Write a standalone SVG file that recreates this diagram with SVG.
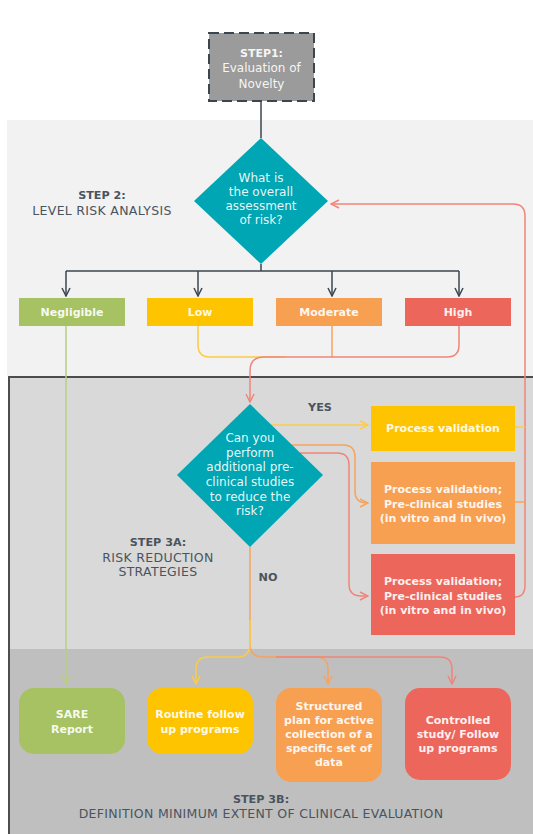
<svg xmlns="http://www.w3.org/2000/svg" width="533" height="834" viewBox="0 0 533 834">
<defs>
<style>
text{font-family:"DejaVu Sans","Liberation Sans",Arial,sans-serif;text-anchor:middle}
.lbl{font-size:12.5px;fill:#4a545e;letter-spacing:0.3px}
.lblb{font-size:11.2px;fill:#4a545e;font-weight:bold}
.wt{font-size:12px;fill:#ffffff;fill-opacity:0.92}
.wtb{font-size:11px;fill:#ffffff;fill-opacity:0.92;font-weight:bold}
.dk{stroke:#3c4650;stroke-width:1.5;fill:none}
.gr{stroke:#b8cf80;stroke-width:1.5;fill:none}
.ye{stroke:#fccb47;stroke-width:1.5;fill:none}
.or{stroke:#f7a35c;stroke-width:1.5;fill:none}
.rd{stroke:#f0857a;stroke-width:1.5;fill:none}
</style>
<marker id="aDk" viewBox="0 0 10 10" refX="9" refY="5" markerWidth="10" markerHeight="10" markerUnits="userSpaceOnUse" orient="auto"><path d="M1,1 L9,5 L1,9" fill="none" stroke="#3c4650" stroke-width="1.5"/></marker>
<marker id="aGr" viewBox="0 0 10 10" refX="9" refY="5" markerWidth="10" markerHeight="10" markerUnits="userSpaceOnUse" orient="auto"><path d="M1,1 L9,5 L1,9" fill="none" stroke="#b8cf80" stroke-width="1.5"/></marker>
<marker id="aYe" viewBox="0 0 10 10" refX="9" refY="5" markerWidth="10" markerHeight="10" markerUnits="userSpaceOnUse" orient="auto"><path d="M1,1 L9,5 L1,9" fill="none" stroke="#fccb47" stroke-width="1.5"/></marker>
<marker id="aOr" viewBox="0 0 10 10" refX="9" refY="5" markerWidth="10" markerHeight="10" markerUnits="userSpaceOnUse" orient="auto"><path d="M1,1 L9,5 L1,9" fill="none" stroke="#f7a35c" stroke-width="1.5"/></marker>
<marker id="aRd" viewBox="0 0 10 10" refX="9" refY="5" markerWidth="10" markerHeight="10" markerUnits="userSpaceOnUse" orient="auto"><path d="M1,1 L9,5 L1,9" fill="none" stroke="#f0857a" stroke-width="1.5"/></marker>
</defs>
<rect width="533" height="834" fill="#ffffff"/>
<!-- panels -->
<g id="panels">
<rect x="7" y="120" width="526" height="256" fill="#f2f2f2"/>
<rect x="8" y="376" width="525" height="273" fill="#d9d9d9"/>
<rect x="8" y="649" width="525" height="185" fill="#bfbfbf"/>
<path d="M9,834 V377 H533" fill="none" stroke="#4d4d4d" stroke-width="2"/>
</g>
<!-- connectors -->
<g id="connectors">
<path class="dk" d="M261,102 V138"/>
<path class="dk" d="M261,264 V271 M66,271 H459"/>
<path class="dk" d="M66,271 V296" marker-end="url(#aDk)"/>
<path class="dk" d="M198,271 V296" marker-end="url(#aDk)"/>
<path class="dk" d="M332,271 V296" marker-end="url(#aDk)"/>
<path class="dk" d="M459,271 V296" marker-end="url(#aDk)"/>
<path class="gr" d="M66,326 V684" marker-end="url(#aGr)"/>
<path class="ye" d="M198,326 V345 Q198,357 210,357 H285"/>
<path class="or" d="M332,326 V357"/>
<path class="rd" d="M459,326 V345 Q459,357 447,357 H264 Q250,357 250,371 V402" marker-end="url(#aRd)"/>
<path class="rd" d="M515,597 Q525,597 525,585 V216 Q525,204 513,204 H331" marker-end="url(#aRd)"/>
<path class="ye" d="M515,427 H525"/>
<path class="or" d="M515,502 H525"/>
<path class="ye" d="M271,425 H368" marker-end="url(#aYe)"/>
<path class="or" d="M292,445 H343 Q355,445 355,457 V491 Q355,503 367,503 H368" marker-end="url(#aOr)"/>
<path class="rd" d="M300,453 H337 Q349,453 349,465 V584 Q349,596 361,596 H368" marker-end="url(#aRd)"/>
<path class="or" d="M250,547 V644 Q250,657 263,657 H316 Q328,657 328,669 V684" marker-end="url(#aOr)"/>
<path class="rd" d="M276,657 H440 Q452,657 452,669 V684" marker-end="url(#aRd)"/>
<path class="ye" d="M250,620 V644 Q250,657 237,657 H208 Q196,657 196,669 V684" marker-end="url(#aYe)"/>
</g>
<!-- nodes -->
<g id="step1">
<rect x="209" y="33" width="105" height="68" fill="#9b9b9b" stroke="#3c4650" stroke-width="2" stroke-dasharray="10,5"/>
<text class="wtb" x="261.5" y="57">STEP1:</text>
<text class="wt" x="261.5" y="72">Evaluation of</text>
<text class="wt" x="261.5" y="87.5">Novelty</text>
</g>
<g id="step2-label">
<text class="lblb" x="102" y="199">STEP 2:</text>
<text class="lbl" x="102" y="215">LEVEL RISK ANALYSIS</text>
</g>
<g id="q1">
<polygon points="261,138 328,201 261,264 194,201" fill="#00a6b4"/>
<text class="wt" x="261" y="182">What is</text>
<text class="wt" x="261" y="196">the overall</text>
<text class="wt" x="261" y="210">assessment</text>
<text class="wt" x="261" y="224">of risk?</text>
</g>
<g id="negligible">
<rect x="19" y="298" width="106" height="28" fill="#a6c263"/>
<text class="wtb" x="72" y="316">Negligible</text>
</g>
<g id="low">
<rect x="147" y="298" width="106" height="28" fill="#fec400"/>
<text class="wtb" x="200" y="316">Low</text>
</g>
<g id="moderate">
<rect x="276" y="298" width="106" height="28" fill="#f8a052"/>
<text class="wtb" x="329" y="316">Moderate</text>
</g>
<g id="high">
<rect x="405" y="298" width="106" height="28" fill="#ed665b"/>
<text class="wtb" x="458" y="316">High</text>
</g>
<g id="q2">
<polygon points="250,404 323,475 250,547 177,475" fill="#00a6b4"/>
<text class="wt" x="250" y="442">Can you</text>
<text class="wt" x="250" y="456.5">perform</text>
<text class="wt" x="250" y="471">additional pre-</text>
<text class="wt" x="250" y="486">clinical studies</text>
<text class="wt" x="250" y="500.5">to reduce the</text>
<text class="wt" x="250" y="515">risk?</text>
</g>
<g id="yes-label"><text class="lblb" x="320" y="411">YES</text></g>
<g id="no-label"><text class="lblb" x="268" y="581">NO</text></g>
<g id="pv1">
<rect x="371" y="406" width="144" height="45" fill="#fec400"/>
<text class="wtb" x="443" y="432">Process validation</text>
</g>
<g id="pv2">
<rect x="371" y="462" width="144" height="82" fill="#f8a052"/>
<text class="wtb" x="443" y="493">Process validation;</text>
<text class="wtb" x="443" y="507.5">Pre-clinical studies</text>
<text class="wtb" x="443" y="522">(in vitro and in vivo)</text>
</g>
<g id="pv3">
<rect x="371" y="554" width="144" height="81" fill="#ed665b"/>
<text class="wtb" x="443" y="585">Process validation;</text>
<text class="wtb" x="443" y="599.5">Pre-clinical studies</text>
<text class="wtb" x="443" y="614">(in vitro and in vivo)</text>
</g>
<g id="step3a-label">
<text class="lblb" x="158" y="546">STEP 3A:</text>
<text class="lbl" x="158" y="561.5">RISK REDUCTION</text>
<text class="lbl" x="158" y="575.5">STRATEGIES</text>
</g>
<g id="sare">
<rect x="19" y="688" width="106" height="66" rx="15" fill="#a6c263"/>
<text class="wtb" x="72" y="718">SARE</text>
<text class="wtb" x="72" y="733">Report</text>
</g>
<g id="routine">
<rect x="147" y="688" width="106" height="66" rx="15" fill="#fec400"/>
<text class="wtb" x="200" y="718">Routine follow</text>
<text class="wtb" x="200" y="733">up programs</text>
</g>
<g id="structured">
<rect x="276" y="688" width="106" height="94" rx="15" fill="#f8a052"/>
<text class="wtb" x="329" y="709.5">Structured</text>
<text class="wtb" x="329" y="723.5">plan for active</text>
<text class="wtb" x="329" y="737.5">collection of a</text>
<text class="wtb" x="329" y="751.5">specific set of</text>
<text class="wtb" x="329" y="765.5">data</text>
</g>
<g id="controlled">
<rect x="405" y="688" width="106" height="92" rx="15" fill="#ed665b"/>
<text class="wtb" x="458" y="724">Controlled</text>
<text class="wtb" x="458" y="738">study/ Follow</text>
<text class="wtb" x="458" y="752">up programs</text>
</g>
<g id="step3b-label">
<text class="lblb" x="261" y="803">STEP 3B:</text>
<text class="lbl" x="261" y="817.5">DEFINITION MINIMUM EXTENT OF CLINICAL EVALUATION</text>
</g>
</svg>
